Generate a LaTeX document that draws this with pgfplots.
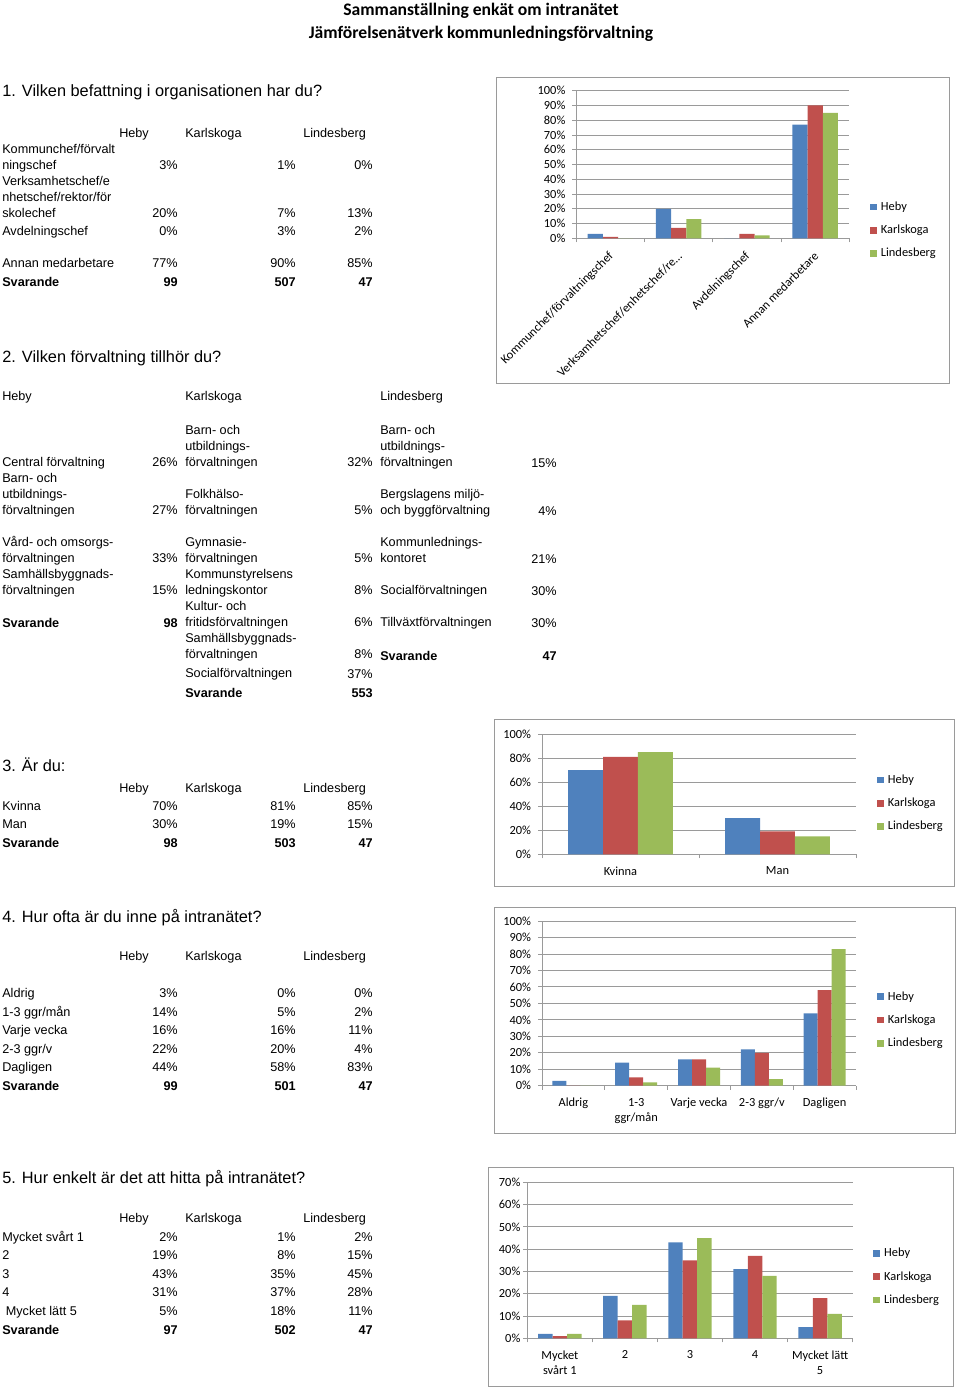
\documentclass[border=0pt]{standalone}
\usepackage{fontspec}
\setmainfont{Liberation Sans}
\newfontfamily\calib{Carlito}
\usepackage{pgfplots}
\pgfplotsset{compat=1.18}
\definecolor{cB}{HTML}{4F81BD}
\definecolor{cR}{HTML}{C0504D}
\definecolor{cG}{HTML}{9BBB59}
\definecolor{gl}{HTML}{9A9A9A}
\newcommand\cf{\calib\fontsize{9.3}{11.25}\selectfont}
\pgfplotsset{
  xl/.style={
    scale only axis, clip=false,
    axis x line*=bottom, axis y line*=left,
    axis line style={gl, line width=0.7pt},
    ymajorgrids, grid style={gl, line width=0.7pt},
    ymin=0, ybar=0pt,
    tick align=outside, major tick length=3pt,
    tick style={gl, line width=0.7pt},
    xticklabels={},
    extra x tick style={major tick length=0pt},
    yticklabel style={font=\cf, text=black, anchor=east, inner sep=0pt, xshift=-5pt},
    every axis plot/.append style={draw=none},
    legend style={draw=none, fill=none, inner sep=0pt, font=\cf,
      nodes={inner sep=0pt, text height=7pt, text depth=2pt},
      row sep=8.4pt, anchor=west,
      /tikz/every odd column/.append style={column sep=3pt}},
    legend image code/.code={\fill[##1] (0pt,-2.5pt) rectangle (5pt,2.5pt);},
    legend cell align=left,
  }
}
\newcommand\tl[3]{\node[anchor=mid west] at (#1,#2) {#3};}
\newcommand\tr[3]{\node[anchor=mid east] at (#1,#2) {#3};}
\newcommand\row[5]{\tl{2}{#1}{#2}\tr{178}{#1}{#3}\tr{296}{#1}{#4}\tr{373}{#1}{#5}}
\newcommand\hdr[1]{\tl{119}{#1}{Heby}\tl{185}{#1}{Karlskoga}\tl{303}{#1}{Lindesberg}}
\newcommand\hd[2]{\node[anchor=mid west, font=\fontsize{12.25}{14}\selectfont] at (2,#1) {#2};}
\begin{document}
\begin{tikzpicture}[x=0.75pt,y=-0.75pt]
\useasboundingbox (0,0) rectangle (960,1389);
% Title
\node[font=\calib\bfseries\fontsize{13.2}{15}\selectfont, inner sep=0pt] at (481,10.5) {Sammanställning enkät om intranätet};
\node[font=\calib\bfseries\fontsize{13.2}{15}\selectfont, inner sep=0pt] at (481,33.5) {Jämförelsenätverk kommunledningsförvaltning};

\begin{scope}[every node/.style={inner sep=0pt, yshift=-1.3pt, font=\fontsize{9.5}{12}\selectfont}]
% Section 1
\hd{91.5}{1. Vilken befattning i organisationen har du?}
\hdr{132.5}
\tl{2}{148}{Kommunchef/förvalt}
\row{164.5}{ningschef}{3\%}{1\%}{0\%}
\tl{2}{180}{Verksamhetschef/e}
\tl{2}{196.5}{nhetschef/rektor/för}
\row{212.5}{skolechef}{20\%}{7\%}{13\%}
\row{230.5}{Avdelningschef}{0\%}{3\%}{2\%}
\row{262.5}{Annan medarbetare}{77\%}{90\%}{85\%}
\row{281.5}{\bfseries Svarande}{\bfseries 99}{\bfseries 507}{\bfseries 47}
% Section 2
\hd{357}{2. Vilken förvaltning tillhör du?}
\tl{2}{395.5}{Heby}\tl{185}{395.5}{Karlskoga}\tl{380}{395.5}{Lindesberg}
% Heby
\tl{2}{461}{Central förvaltning}\tr{178}{461}{26\%}
\tl{2}{477}{Barn- och}\tl{2}{493}{utbildnings-}\tl{2}{509}{förvaltningen}\tr{178}{509}{27\%}
\tl{2}{541}{Vård- och omsorgs-}\tl{2}{557}{förvaltningen}\tr{178}{557}{33\%}
\tl{2}{573}{Samhällsbyggnads-}\tl{2}{589}{förvaltningen}\tr{178}{589}{15\%}
\tl{2}{622}{\bfseries Svarande}\tr{178}{622}{\bfseries 98}
% Karlskoga
\tl{185}{429}{Barn- och}\tl{185}{445}{utbildnings-}\tl{185}{461}{förvaltningen}\tr{373}{461}{32\%}
\tl{185}{493}{Folkhälso-}\tl{185}{509}{förvaltningen}\tr{373}{509}{5\%}
\tl{185}{541}{Gymnasie-}\tl{185}{557}{förvaltningen}\tr{373}{557}{5\%}
\tl{185}{573}{Kommunstyrelsens}\tl{185}{589}{ledningskontor}\tr{373}{589}{8\%}
\tl{185}{605}{Kultur- och}\tl{185}{621}{fritidsförvaltningen}\tr{373}{621}{6\%}
\tl{185}{637}{Samhällsbyggnads-}\tl{185}{653}{förvaltningen}\tr{373}{653}{8\%}
\tl{185}{672}{Socialförvaltningen}\tr{373}{673}{37\%}
\tl{185}{692}{\bfseries Svarande}\tr{373}{692}{\bfseries 553}
% Lindesberg
\tl{380}{429}{Barn- och}\tl{380}{445}{utbildnings-}\tl{380}{461}{förvaltningen}\tr{557}{462}{15\%}
\tl{380}{493}{Bergslagens miljö-}\tl{380}{509}{och byggförvaltning}\tr{557}{510}{4\%}
\tl{380}{541}{Kommunlednings-}\tl{380}{557}{kontoret}\tr{557}{558}{21\%}
\tl{380}{589}{Socialförvaltningen}\tr{557}{590}{30\%}
\tl{380}{621}{Tillväxtförvaltningen}\tr{557}{622}{30\%}
\tl{380}{655}{\bfseries Svarande}\tr{557}{655}{\bfseries 47}
% Section 3
\hd{766}{3. Är du:}
\hdr{787}
\row{805}{Kvinna}{70\%}{81\%}{85\%}
\row{823.5}{Man}{30\%}{19\%}{15\%}
\row{842}{\bfseries Svarande}{\bfseries 98}{\bfseries 503}{\bfseries 47}
% Section 4
\hd{917.5}{4. Hur ofta är du inne på intranätet?}
\hdr{955.5}
\row{992.5}{Aldrig}{3\%}{0\%}{0\%}
\row{1011}{1-3 ggr/mån}{14\%}{5\%}{2\%}
\row{1029.5}{Varje vecka}{16\%}{16\%}{11\%}
\row{1048}{2-3 ggr/v}{22\%}{20\%}{4\%}
\row{1066.5}{Dagligen}{44\%}{58\%}{83\%}
\row{1085}{\bfseries Svarande}{\bfseries 99}{\bfseries 501}{\bfseries 47}
% Section 5
\hd{1178.5}{5. Hur enkelt är det att hitta på intranätet?}
\hdr{1217.5}
\row{1236}{Mycket svårt 1}{2\%}{1\%}{2\%}
\row{1254.5}{2}{19\%}{8\%}{15\%}
\row{1273}{3}{43\%}{35\%}{45\%}
\row{1291.5}{4}{31\%}{37\%}{28\%}
\row{1310}{\ Mycket lätt 5}{5\%}{18\%}{11\%}
\row{1329}{\bfseries Svarande}{\bfseries 97}{\bfseries 502}{\bfseries 47}
\end{scope}

% Chart borders
\draw[gl, line width=0.7pt] (496,77) rectangle (949,383);
\draw[gl, line width=0.7pt] (494,719) rectangle (954,886);
\draw[gl, line width=0.7pt] (494,907) rectangle (955,1133);
\draw[gl, line width=0.7pt] (488,1167) rectangle (953,1386);

\coordinate (o1) at (576.3,238.3);
\coordinate (o3) at (542,854.3);
\coordinate (o4) at (542,1085.7);
\coordinate (o5) at (527.3,1338.3);

% Chart 1
\begin{axis}[xl, at={(o1)}, anchor=south west, width=204.75pt, height=110.7pt,
  xmin=-0.5, xmax=3.5, ymax=100, bar width=11.4pt,
  xtick={-0.5,0.5,1.5,2.5,3.5},
  ytick={0,10,...,100},
  yticklabels={0\%,10\%,20\%,30\%,40\%,50\%,60\%,70\%,80\%,90\%,100\%},
  extra x ticks={0,1,2,3},
  extra x tick labels={Kommunchef/förvaltningschef,Verksamhetschef/enhetschef/re…,Avdelningschef,Annan medarbetare},
  extra x tick style={xticklabel style={font=\cf, rotate=45, anchor=east, inner sep=0pt, xshift=-7.7pt, yshift=-9pt}},
  legend style={at={(axis description cs:1.0758,0.0542)}}]
\addplot[fill=cB] coordinates {(0,3) (1,20) (2,0) (3,77)};
\addplot[fill=cR] coordinates {(0,1) (1,7) (2,3) (3,90)};
\addplot[fill=cG] coordinates {(0,0) (1,13) (2,2) (3,85)};
\legend{Heby,Karlskoga,Lindesberg}
\end{axis}

% Chart 3
\begin{axis}[xl, at={(o3)}, anchor=south west, width=235.5pt, height=90.2pt,
  xmin=-0.5, xmax=1.5, ymax=100, bar width=26.2pt,
  xtick={-0.5,0.5,1.5},
  ytick={0,20,...,100},
  yticklabels={0\%,20\%,40\%,60\%,80\%,100\%},
  extra x ticks={0,1},
  extra x tick labels={Kvinna,Man},
  extra x tick style={xticklabel style={font=\cf, align=center, anchor=north, inner sep=0pt, yshift=-9pt}},
  legend style={at={(axis description cs:1.0669,0.424)}}]
\addplot[fill=cB] coordinates {(0,70) (1,30)};
\addplot[fill=cR] coordinates {(0,81) (1,19)};
\addplot[fill=cG] coordinates {(0,85) (1,15)};
\legend{Heby,Karlskoga,Lindesberg}
\end{axis}

% Chart 4
\begin{axis}[xl, at={(o4)}, anchor=south west, width=235.5pt, height=123.5pt,
  xmin=-0.5, xmax=4.5, ymax=100, bar width=10.5pt,
  xtick={-0.5,0.5,1.5,2.5,3.5,4.5},
  ytick={0,10,...,100},
  yticklabels={0\%,10\%,20\%,30\%,40\%,50\%,60\%,70\%,80\%,90\%,100\%},
  extra x ticks={0,1,2,3,4},
  extra x tick labels={Aldrig,{1-3\\ggr/mån},Varje vecka,2-3 ggr/v,Dagligen},
  extra x tick style={xticklabel style={font=\cf, align=center, anchor=north, inner sep=0pt, yshift=-9pt}},
  legend style={at={(axis description cs:1.0669,0.399)}}]
\addplot[fill=cB] coordinates {(0,3) (1,14) (2,16) (3,22) (4,44)};
\addplot[fill=cR] coordinates {(0,0) (1,5) (2,16) (3,20) (4,58)};
\addplot[fill=cG] coordinates {(0,0) (1,2) (2,11) (3,4) (4,83)};
\legend{Heby,Karlskoga,Lindesberg}
\end{axis}

% Chart 5
\begin{axis}[xl, at={(o5)}, anchor=south west, width=244pt, height=117pt,
  xmin=-0.5, xmax=4.5, ymax=70, bar width=10.85pt,
  xtick={-0.5,0.5,1.5,2.5,3.5,4.5},
  ytick={0,10,...,70},
  yticklabels={0\%,10\%,20\%,30\%,40\%,50\%,60\%,70\%},
  yticklabel style={xshift=3pt},
  extra x ticks={0,1,2,3,4},
  extra x tick labels={{Mycket\\svårt 1},2,3,4,{Mycket lätt\\5}},
  extra x tick style={xticklabel style={font=\cf, align=center, anchor=north, inner sep=0pt, yshift=-9pt}},
  legend style={at={(axis description cs:1.0633,0.395)}}]
\addplot[fill=cB] coordinates {(0,2) (1,19) (2,43) (3,31) (4,5)};
\addplot[fill=cR] coordinates {(0,1) (1,8) (2,35) (3,37) (4,18)};
\addplot[fill=cG] coordinates {(0,2) (1,15) (2,45) (3,28) (4,11)};
\legend{Heby,Karlskoga,Lindesberg}
\end{axis}
\end{tikzpicture}
\end{document}
